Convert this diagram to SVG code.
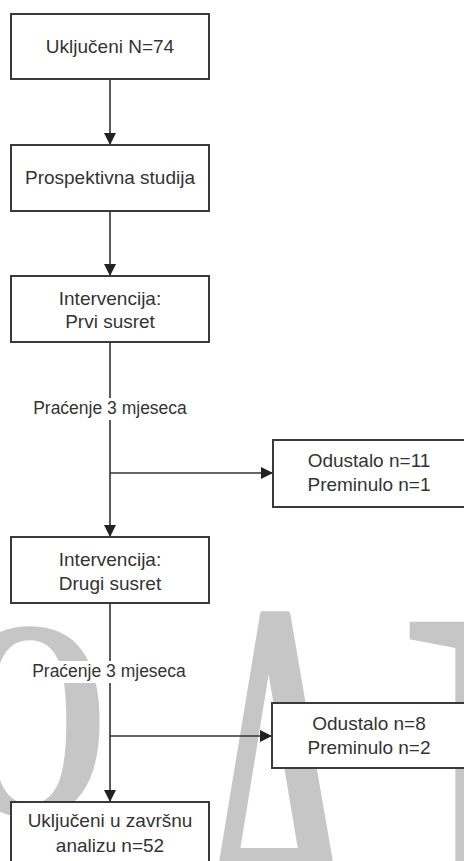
<svg xmlns="http://www.w3.org/2000/svg" width="464" height="861" viewBox="0 0 464 861">
<style>
.box{fill:#ffffff;stroke:#3a3a3a;stroke-width:2}
.t{font-family:"Liberation Sans",Arial,sans-serif;font-size:19px;fill:#333333;text-anchor:middle}
.lbl{font-family:"Liberation Sans",Arial,sans-serif;font-size:17.5px;fill:#333333;text-anchor:middle}
.lblbg{fill:#ffffff;stroke:none}
.ln{fill:none;stroke:#333333;stroke-width:1.6}
.wm{font-family:"Liberation Serif","Times New Roman",serif;fill:#c6c6c6}
</style>
<defs>
<marker id="arr" markerUnits="userSpaceOnUse" markerWidth="13" markerHeight="12" refX="12" refY="6" orient="auto">
<path d="M0,0 L12,6 L0,12 Z" fill="#222222"/>
</marker>
</defs>
<rect width="464" height="861" fill="#ffffff"/>
<g id="watermark">
<text class="wm" font-size="285" font-weight="bold" transform="translate(-50,815) scale(0.72,1)">O</text>
<text class="wm" font-size="610" stroke="#c6c6c6" stroke-width="8" vector-effect="non-scaling-stroke" stroke-linejoin="round" transform="translate(176,1019) scale(0.46,1)">A</text>
<text class="wm" font-size="680" transform="translate(390,1067) scale(0.8,1)">I</text>
</g>
<g id="connectors">
<line class="ln" x1="110" y1="79" x2="110" y2="145" marker-end="url(#arr)"/>
<line class="ln" x1="110" y1="211" x2="110" y2="276" marker-end="url(#arr)"/>
<line class="ln" x1="110" y1="342" x2="110" y2="537" marker-end="url(#arr)"/>
<line class="ln" x1="110" y1="473" x2="273" y2="473" marker-end="url(#arr)"/>
<line class="ln" x1="110" y1="603" x2="110" y2="802" marker-end="url(#arr)"/>
<line class="ln" x1="110" y1="736" x2="272" y2="736" marker-end="url(#arr)"/>
<g id="label1">
<rect class="lblbg" x="30" y="398" width="160" height="22"/>
<text class="lbl" x="110" y="414">Praćenje 3 mjeseca</text>
</g>
<g id="label2">
<rect class="lblbg" x="29" y="661" width="160" height="22"/>
<text class="lbl" x="109" y="677">Praćenje 3 mjeseca</text>
</g>
</g>
<g id="n1">
<rect class="box" x="11" y="14" width="198" height="65"/>
<text class="t" x="110" y="53">Uključeni N=74</text>
</g>
<g id="n2">
<rect class="box" x="11" y="145" width="198" height="66"/>
<text class="t" x="110" y="184">Prospektivna studija</text>
</g>
<g id="n3">
<rect class="box" x="11" y="276" width="198" height="66"/>
<text class="t" x="110" y="305">Intervencija:</text>
<text class="t" x="110" y="328">Prvi susret</text>
</g>
<g id="n4">
<rect class="box" x="273" y="440" width="192" height="67"/>
<text class="t" x="369" y="467">Odustalo n=11</text>
<text class="t" x="369" y="491">Preminulo n=1</text>
</g>
<g id="n5">
<rect class="box" x="11" y="537" width="198" height="66"/>
<text class="t" x="110" y="566">Intervencija:</text>
<text class="t" x="110" y="590">Drugi susret</text>
</g>
<g id="n6">
<rect class="box" x="272" y="703" width="193" height="65"/>
<text class="t" x="369" y="730">Odustalo n=8</text>
<text class="t" x="369" y="754">Preminulo n=2</text>
</g>
<g id="n7">
<rect class="box" x="11" y="802" width="198" height="80"/>
<text class="t" x="110" y="827">Uključeni u završnu</text>
<text class="t" x="110" y="852">analizu n=52</text>
</g>
</svg>
